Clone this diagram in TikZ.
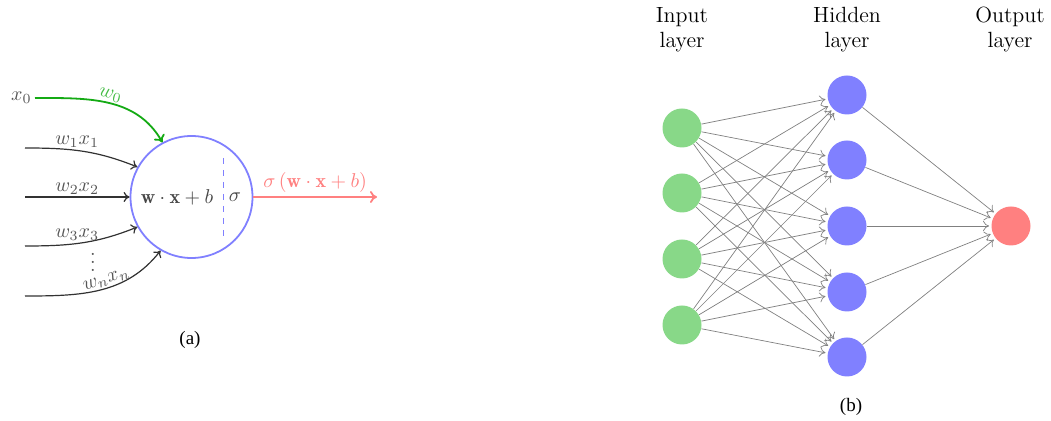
\documentclass[tikz,border=0pt]{standalone}
\usepackage{fontspec}
\newfontfamily\capfont{Liberation Serif}
\usetikzlibrary{arrows.meta}
\definecolor{ingreen}{RGB}{136,216,136}
\definecolor{hidblue}{RGB}{128,128,255}
\definecolor{outred}{RGB}{255,128,128}
\definecolor{edgegreen}{RGB}{20,170,20}
\definecolor{lblgray}{RGB}{85,85,85}
\definecolor{linegray}{RGB}{50,50,50}
\tikzset{
  neuron/.style={circle, minimum size=61pt, inner sep=0pt, draw=hidblue, line width=0.9pt},
  inedge/.style={draw=linegray, line width=0.6pt, -{To[length=3pt,width=5pt]}},
  lbl/.style={text=lblgray, font=\fontsize{10}{12}\selectfont, inner sep=1.5pt},
  unit/.style={circle, minimum size=19.5pt, inner sep=0pt},
  inunit/.style={unit, fill=ingreen},
  hidunit/.style={unit, fill=hidblue},
  outunit/.style={unit, fill=outred},
  netedge/.style={draw=gray, line width=0.35pt, -{To[length=3pt,width=5pt]}, shorten >=1pt},
  layerlbl/.style={align=center, font=\fontsize{11}{12.5}\selectfont},
  captext/.style={font=\capfont\fontsize{9.5}{11}\selectfont}
}
\begin{document}
\begin{tikzpicture}[x=0.5pt, y=-0.5pt]
\useasboundingbox (0,0) rectangle (1051,421);
% ---------- (a) ----------
\node[neuron] (c) at (191.5,197) {};
\node[lbl, text=linegray!90] (sum) at (177,197) {$\mathbf{w}\cdot\mathbf{x}+b$};
\node[lbl, text=linegray!90] (sig) at (235,197) {$\sigma$};
\coordinate (dtop) at (223,158);
\coordinate (dbot) at (223,237);
\draw[draw=hidblue, dashed, line width=0.5pt] (dtop) -- (dbot);

\node[lbl, anchor=east, inner sep=0pt] (x0) at (32,98) {$x_0$};
\draw[draw=edgegreen, line width=0.9pt, -{To[length=3.5pt,width=6pt]}]
  (x0.east) ++(3,0) coordinate (x0s) to[out=0,in=120]
  node[pos=0.5, above, sloped, text=edgegreen!80, font=\fontsize{10}{12}\selectfont, inner sep=0.5pt] {$w_0$} (c.118);

\coordinate (s1) at (25,148);
\coordinate (s2) at (25,197);
\coordinate (s3) at (25,246);
\coordinate (sn) at (25,296);
\coordinate (eo) at (377,197);

\draw[inedge] (s1) to[out=0,in=158] node[lbl, pos=0.45, above, inner sep=1pt] {$w_1x_1$} (c.151);
\draw[inedge] (s2) -- node[lbl, pos=0.5, above, inner sep=1pt] {$w_2x_2$} (c.west);
\draw[inedge] (s3) to[out=0,in=202] node[lbl, pos=0.45, above, inner sep=1pt] {$w_3x_3$} (c.209);
\node[lbl, inner sep=0pt] (dots) at (93,256) {$\vdots$};
\draw[inedge] (sn) to[out=0,in=232] node[lbl, pos=0.56, above, sloped, inner sep=0.5pt] {$w_nx_n$} (c.240);

\draw[draw=outred, line width=0.9pt, -{To[length=3.5pt,width=6pt]}] (c.east) --
  node[above, text=outred, font=\fontsize{10}{12}\selectfont, inner sep=2pt] {$\sigma\left(\mathbf{w}\cdot\mathbf{x}+b\right)$} (eo);

\node[captext] (capa) at (190,340) {(a)};

% ---------- (b) ----------
\node[layerlbl] (linput) at (682,30) {Input\\layer};
\node[layerlbl] (lhidden) at (847,30) {Hidden\\layer};
\node[layerlbl] (loutput) at (1010,30) {Output\\layer};

\foreach \i/\y in {1/128,2/193,3/259,4/325}
  \node[inunit] (I\i) at (682,\y) {};
\foreach \j/\y in {1/95,2/160,3/226,4/292,5/357}
  \node[hidunit] (H\j) at (847,\y) {};
\node[outunit] (O) at (1011,226) {};

\foreach \i in {1,...,4}
  \foreach \j in {1,...,5}
    \draw[netedge] (I\i) -- (H\j);
\foreach \j in {1,...,5}
  \draw[netedge] (H\j) -- (O);

\node[captext] (capb) at (851,407) {(b)};
\end{tikzpicture}
\end{document}
